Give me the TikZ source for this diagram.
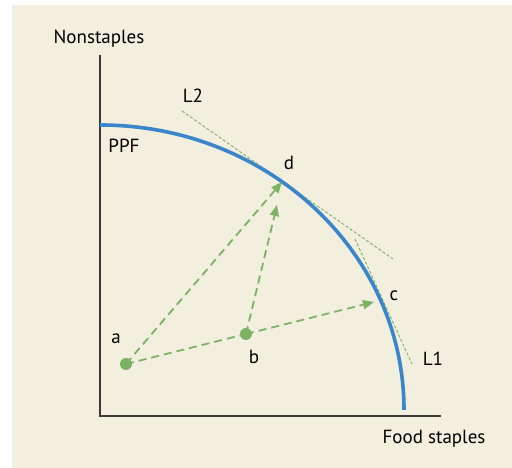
\documentclass[tikz,border=0pt]{standalone}
\usepackage{fontspec}
\setmainfont{PT Sans}
\usetikzlibrary{arrows.meta}
\definecolor{bgc}{HTML}{F2EFDE}
\definecolor{ppfblue}{HTML}{3B86CA}
\definecolor{grn}{HTML}{7DB163}
\definecolor{axisc}{HTML}{3A3A3A}
\tikzset{
  lbl/.style={font=\fontsize{19}{22}\selectfont, text=black, inner sep=0pt},
  pt/.style={circle, fill=grn, minimum size=12pt, inner sep=0pt},
  moveline/.style={draw=grn, line width=1.8pt, dash pattern=on 8pt off 5pt},
  movearrow/.style={moveline, -{Triangle[length=11pt,width=9pt]}},
  tangent/.style={draw=grn, line width=0.9pt, dash pattern=on 3pt off 2pt},
}
\begin{document}
\begin{tikzpicture}[x=1pt,y=1pt]
\useasboundingbox (0,0) rectangle (512,468);
\fill[bgc] (12,0) rectangle (512,463);
% axes
\coordinate (O) at (100,52);
\coordinate (ytop) at (100,413);
\coordinate (xend) at (441,52);
\draw[axisc, line width=1.4pt] (ytop) -- (O) -- (xend);
\node[lbl] (ylab) at (99,429) {Nonstaples};
\node[lbl] (xlab) at (434,29) {Food staples};
% tangent lines
\coordinate (L2a) at (182,357);
\coordinate (L2b) at (393,209);
\coordinate (L1a) at (355,229);
\coordinate (L1b) at (412,104);
\draw[tangent] (L2a) -- (L2b);
\draw[tangent] (L1a) -- (L1b);
% PPF
\draw[ppfblue, line width=3.6pt] (100,343) arc[start angle=90, end angle=0, x radius=304, y radius=285];
\node[lbl] (ppf) at (124,322) {PPF};
\node[lbl] (l2) at (193,372) {L2};
\node[lbl] (l1) at (433,109) {L1};
% points
\coordinate (d) at (282,286);
\coordinate (c) at (379,170);
\coordinate (bd) at (277,263);
\coordinate (bc) at (374,166);
\node[pt] (a) at (126,104) {};
\node[pt] (b) at (246,134) {};
\draw[movearrow] (a.center) -- (d);
\draw[moveline] (a.center) -- (b.center);
\draw[movearrow] (b.center) -- (bd);
\draw[movearrow] (b.center) -- (bc);
\node[lbl] (dl) at (289,305) {d};
\node[lbl] (cl) at (394,172) {c};
\node[lbl] (al) at (116,129) {a};
\node[lbl] (bl) at (254,111) {b};
\end{tikzpicture}
\end{document}
